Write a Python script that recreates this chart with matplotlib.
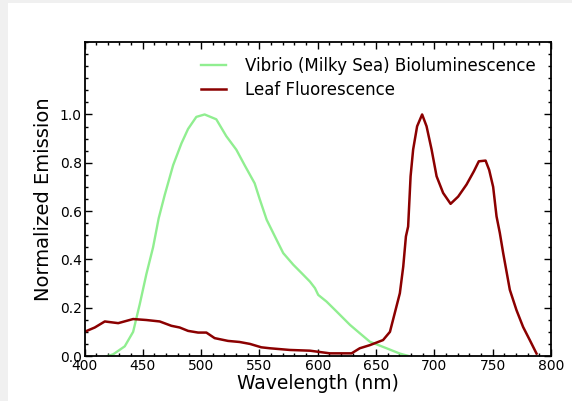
import numpy as np
import matplotlib.pyplot as plt
from matplotlib.ticker import MultipleLocator
from matplotlib.patches import Rectangle

# Vibrio (milky sea) bioluminescence
vibrio_nm = [420, 424.6, 434.5, 441.7, 447.4, 453.1, 458.8, 463.6, 468.8, 476,
             483.1, 488.8, 495.9, 503, 513, 521.6, 530.2, 537.3, 545.9, 550.4,
             556.2, 560.4, 564.7, 570.4, 579, 586.2, 593.3, 597.6, 600.4, 607.6,
             616.2, 627.6, 636.1, 644.7, 659, 670.4, 678]
vibrio_em = [0.0, 0.007, 0.04, 0.10, 0.215, 0.34, 0.45, 0.57, 0.667, 0.79,
             0.88, 0.94, 0.99, 1.0, 0.98, 0.91, 0.854, 0.79, 0.715, 0.647,
             0.564, 0.523, 0.481, 0.426, 0.378, 0.343, 0.308, 0.281, 0.253, 0.225,
             0.184, 0.129, 0.094, 0.059, 0.032, 0.01, 0.0]

# leaf fluorescence
leaf_nm = [400, 408.8, 417.4, 428.9, 441.7, 453, 464.5, 474.5, 481.6, 488.8,
           497.4, 504.5, 511.6, 523, 533, 541.9, 551.6, 559, 576.1, 593.3,
           610.4, 629, 636, 644.7, 656, 661.9, 666, 670.4, 673.3, 675.6,
           677.5, 679.6, 681.8, 685.2, 689.5, 693.3, 697.6, 701.9, 707.5, 713.9,
           720.4, 727.6, 733.9, 738.1, 743.9, 747, 750.4, 753.3, 756.1, 759,
           764.7, 770.4, 776.1, 781.8, 787.6]
leaf_em = [0.10, 0.118, 0.143, 0.136, 0.153, 0.149, 0.143, 0.125, 0.118, 0.104,
           0.097, 0.097, 0.074, 0.0625, 0.058, 0.05, 0.036, 0.032, 0.025, 0.022,
           0.011, 0.011, 0.032, 0.045, 0.066, 0.10, 0.177, 0.26, 0.37, 0.495,
           0.536, 0.744, 0.855, 0.951, 1.0, 0.951, 0.855, 0.744, 0.675, 0.63,
           0.66, 0.71, 0.765, 0.806, 0.809, 0.77, 0.70, 0.578, 0.51, 0.426,
           0.274, 0.19, 0.12, 0.066, 0.01]

fig = plt.figure(figsize=(5.72, 4.01), dpi=100, facecolor='#f0f0f0')
# white page inside the light grey screenshot border
fig.patches.append(Rectangle((8/572, 0), 1, (401-3)/401, transform=fig.transFigure,
                             facecolor='white', edgecolor='none', zorder=-5))
ax = fig.add_axes([84.5/572, 45/401, (551-84.5)/572, (356-42)/401])

ax.plot(vibrio_nm, vibrio_em, color='#90ee90', lw=1.7, label='Vibrio (Milky Sea) Bioluminescence')
ax.plot(leaf_nm, leaf_em, color='#8b0000', lw=1.8, label='Leaf Fluorescence')

ax.set_xlim(400, 800)
ax.set_ylim(0, 1.3)
ax.set_xticks(np.arange(400, 801, 50))
ax.set_yticks([0.0, 0.2, 0.4, 0.6, 0.8, 1.0])
ax.xaxis.set_minor_locator(MultipleLocator(10))
ax.yaxis.set_minor_locator(MultipleLocator(0.05))
ax.tick_params(which='both', direction='in', top=True, right=True, labelsize=10, width=1)
ax.tick_params(which='major', length=5, pad=2)
ax.tick_params(which='minor', length=2.5)
for s in ax.spines.values():
    s.set_linewidth(1.3)

ax.set_xlabel('Wavelength (nm)', fontsize=13.5, labelpad=1)
ax.set_ylabel('Normalized Emission', fontsize=14, labelpad=5)
ax.legend(loc='upper right', frameon=False, fontsize=12, handlelength=1.5,
          borderaxespad=0.5, labelspacing=0.35, handletextpad=1.15)

fig.savefig('out.png', dpi=100, facecolor=fig.get_facecolor())
